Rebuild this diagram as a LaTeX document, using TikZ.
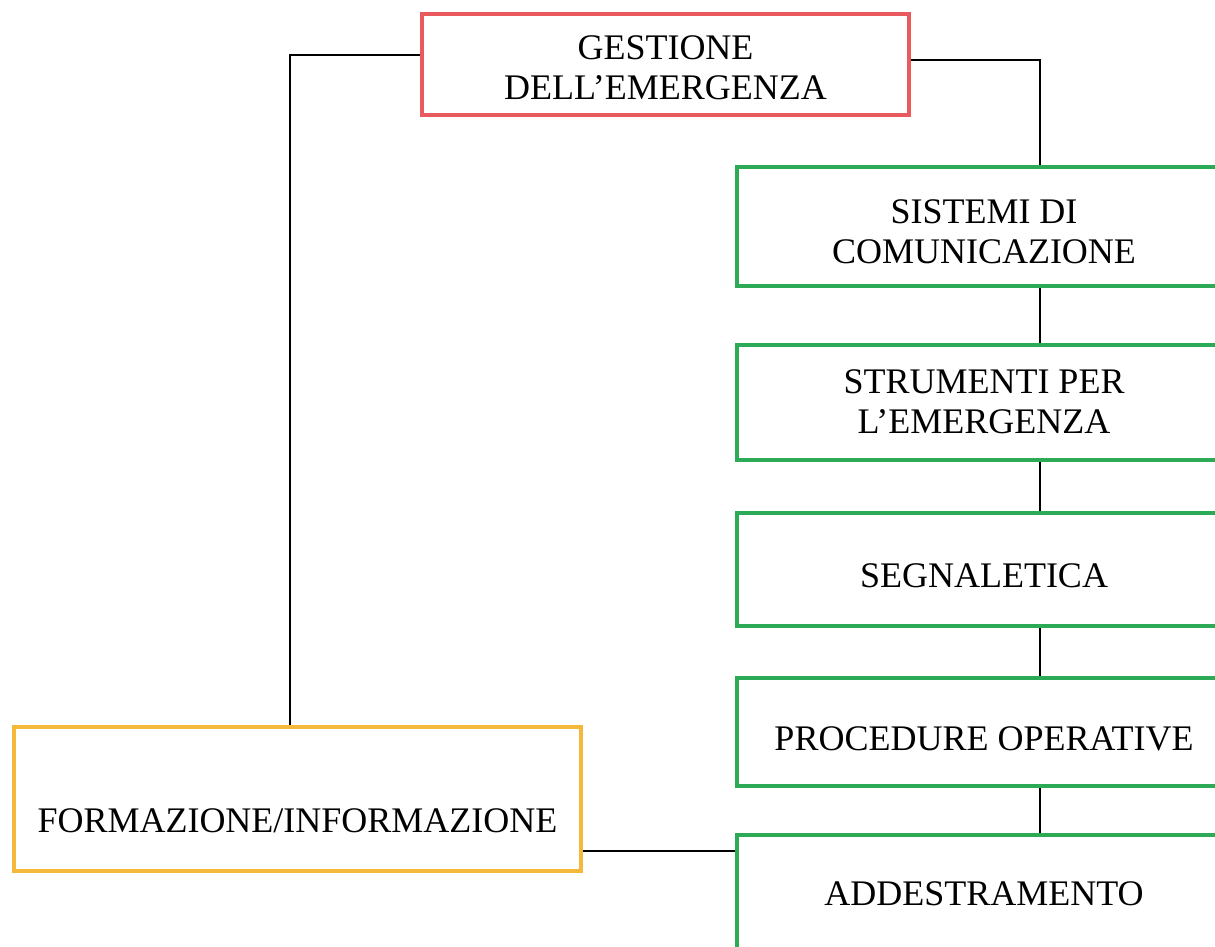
\documentclass[tikz,border=0pt]{standalone}
\usepackage{fontspec}
\setmainfont{Liberation Serif}
\definecolor{boxred}{HTML}{E85A5E}
\definecolor{boxgreen}{HTML}{2DAA55}
\definecolor{boxorange}{HTML}{F5B83A}
\newcommand{\tst}[1]{\rule{0pt}{#1pt}}
\newcommand{\bst}[1]{\rule[-#1pt]{0pt}{#1pt}}
\begin{document}
\begin{tikzpicture}[x=1pt,y=-1pt,
  box/.style={draw,line width=4pt,fill=white,align=center,inner sep=0pt,
    font=\fontsize{36}{40}\selectfont,text=black},
  redbox/.style={box,draw=boxred,minimum width=487pt},
  greenbox/.style={box,draw=boxgreen,minimum width=494pt},
  orangebox/.style={box,draw=boxorange,minimum width=567pt},
  conn/.style={draw=black,line width=2pt}]
\useasboundingbox (0,0) rectangle (1215,946);
\clip (0,0) rectangle (1215,946);
\fill[white] (0,0) rectangle (1215,946);

\node[redbox] (red) at (665.5,64.5) {\tst{45}GESTIONE\\DELL’EMERGENZA\bst{16}};

\node[greenbox] (g1) at (984,226.5) {\tst{56}SISTEMI DI\\COMUNICAZIONE\bst{23}};
\node[greenbox] (g2) at (984,402.5) {\tst{48}STRUMENTI PER\\L’EMERGENZA\bst{27}};
\node[greenbox] (g3) at (984,569.5) {\tst{74}SEGNALETICA\bst{39}};
\node[greenbox] (g4) at (984,732) {\tst{72}PROCEDURE OPERATIVE\bst{36}};
\node[greenbox] (g5) at (984,895) {\tst{70}ADDESTRAMENTO\bst{50}};

\node[orangebox] (or) at (297.5,799) {\tst{105}FORMAZIONE/INFORMAZIONE\bst{39}};

\draw[conn] ([yshift=9.5pt]red.west) -| ([xshift=-7.5pt]or.north);
\draw[conn] ([yshift=4.5pt]red.east) -| ([xshift=56pt]g1.north);
\draw[conn] ([xshift=56pt]g1.south) -- ([xshift=56pt]g2.north);
\draw[conn] ([xshift=56pt]g2.south) -- ([xshift=56pt]g3.north);
\draw[conn] ([xshift=56pt]g3.south) -- ([xshift=56pt]g4.north);
\draw[conn] ([xshift=56pt]g4.south) -- ([xshift=56pt]g5.north);
\draw[conn] ([yshift=-52pt]or.east) -- ([yshift=-52pt]or.east -| g5.west);
\end{tikzpicture}
\end{document}
